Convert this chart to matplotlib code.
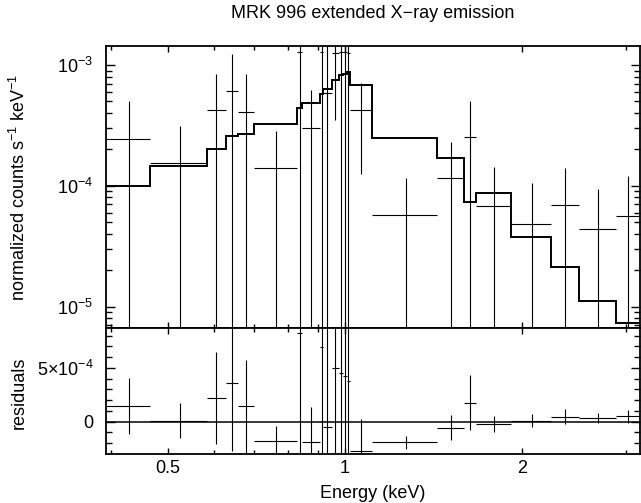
import numpy as np
import matplotlib
matplotlib.use("Agg")
import matplotlib.pyplot as plt
from matplotlib.ticker import FixedLocator, NullFormatter, FixedFormatter, LogLocator

plt.rcParams['font.family'] = ['Liberation Sans', 'DejaVu Sans']
plt.rcParams['mathtext.fontset'] = 'custom'
plt.rcParams['mathtext.rm'] = 'Liberation Sans'
plt.rcParams['mathtext.it'] = 'Liberation Sans:italic'
plt.rcParams['mathtext.bf'] = 'Liberation Sans:bold'

# ---- data ----
bin_edges = [0.3925, 0.466, 0.582, 0.627, 0.658, 0.700, 0.830, 0.846, 0.907, 0.919,
             0.949, 0.978, 0.993, 1.007, 1.020, 1.110, 1.432, 1.594, 1.668, 1.916,
             2.238, 2.503, 2.887, 3.175]
counts = [2.46e-4, 1.54e-4, 4.2e-4, 6.14e-4, 4.1e-4, 1.41e-4, 1.27e-3, 3.01e-4,
          1.27e-3, 5.9e-4, 1.25e-3, 1.27e-3, 1.27e-3, 1.25e-3, 4.2e-4, 5.7e-5,
          1.16e-4, 2.52e-4, 6.8e-5, 4.86e-5, 6.93e-5, 4.42e-5, 5.62e-5]
count_err = [2.6e-4, 1.6e-4, 4.3e-4, 6.3e-4, 4.3e-4, 1.43e-4, 1.3e-3, 3.2e-4,
             1.3e-3, 1.0e-3, 9.0e-4, 1.3e-3, 1.3e-3, 1.3e-3, 2.96e-4, 5.8e-5,
             1.16e-4, 2.55e-4, 7.5e-5, 5.7e-5, 7.1e-5, 4.9e-5, 6.4e-5]
model = [1.0e-4, 1.45e-4, 2.0e-4, 2.57e-4, 2.67e-4, 3.23e-4, 4.44e-4, 4.89e-4,
         5.8e-4, 6.38e-4, 7.48e-4, 8.2e-4, 8.5e-4, 8.7e-4, 6.88e-4, 2.49e-4,
         1.71e-4, 7.4e-5, 8.7e-5, 3.77e-5, 2.13e-5, 1.11e-5, 7.3e-6]

title = "MRK 996 extended X\u2212ray emission"
x_major = [0.5, 1, 2]
x_major_labels = ["0.5", "1", "2"]
x_minor = [0.4, 0.6, 0.7, 0.8, 0.9, 3]
res_major = [0, 5e-4]
res_major_labels = ["0", r"5$\times$10$^{-4}$"]
res_minor = [-2e-4, -1e-4, 1e-4, 2e-4, 3e-4, 4e-4, 6e-4, 7e-4, 8e-4]

edges = np.array(bin_edges)
lo, hi = edges[:-1], edges[1:]
xc = 0.5 * (lo + hi)
y = np.array(counts)
ey = np.array(count_err)
m = np.array(model)
res = y - m

fig = plt.figure(figsize=(6.41, 5.03), dpi=100)
L, R = 106 / 641, 640 / 641
def fy(p):
    return 1 - p / 503
ax1 = fig.add_axes([L, fy(328), R - L, fy(46) - fy(328)])
ax2 = fig.add_axes([L, fy(454), R - L, fy(328) - fy(454)], sharex=ax1)

lw_data = 0.8
# upper panel
ylow = np.maximum(y - ey, 1e-9)
ax1.errorbar(xc, y, xerr=[xc - lo, hi - xc], yerr=[y - ylow, ey], fmt='none',
             ecolor='black', elinewidth=lw_data, capsize=0)
ax1.stairs(m, edges, color='black', lw=1.4, baseline=None)
ax1.set_xscale('log')
ax1.set_yscale('log')
ax1.set_xlim(0.3925, 3.175)
ax1.set_ylim(6.64e-6, 1.436e-3)

# lower panel
ax2.errorbar(xc, res, xerr=[xc - lo, hi - xc], yerr=ey, fmt='none',
             ecolor='black', elinewidth=lw_data, capsize=0)
ax2.axhline(0, color='black', lw=1.1)
ax2.set_ylim(-3.0e-4, 8.7e-4)

for ax in (ax1, ax2):
    ax.xaxis.set_major_locator(FixedLocator(x_major))
    ax.xaxis.set_minor_locator(FixedLocator(x_minor))
    ax.xaxis.set_minor_formatter(NullFormatter())
    for s in ax.spines.values():
        s.set_linewidth(1.3)
    ax.tick_params(axis='x', which='major', direction='in', length=4.5, width=1.0,
                   top=True, bottom=True, labelsize=13, pad=4)
    ax.tick_params(axis='x', which='minor', direction='in', length=2.8, width=1.0,
                   top=True, bottom=True)
    ax.tick_params(axis='y', which='major', direction='in', length=6.5, width=1.0,
                   left=True, right=True, labelsize=13, pad=9)
    ax.tick_params(axis='y', which='minor', direction='in', length=4.0, width=1.0,
                   left=True, right=True)

ax1.tick_params(axis='x', which='both', labelbottom=False)
ax2.xaxis.set_major_formatter(FixedFormatter(x_major_labels))

ax1.yaxis.set_major_locator(FixedLocator([1e-5, 1e-4, 1e-3]))
ax1.yaxis.set_major_formatter(FixedFormatter([r"10$^{-5}$", r"10$^{-4}$", r"10$^{-3}$"]))
ax1.yaxis.set_minor_locator(LogLocator(base=10, subs=np.arange(2, 10)))
ax1.yaxis.set_minor_formatter(NullFormatter())

ax2.yaxis.set_major_locator(FixedLocator(res_major))
ax2.yaxis.set_major_formatter(FixedFormatter(res_major_labels))
ax2.yaxis.set_minor_locator(FixedLocator(res_minor))

fig.text(373 / 641, fy(14), title, ha='center', va='center', fontsize=13)
fig.text(373 / 641, fy(493), "Energy (keV)", ha='center', va='center', fontsize=13)
fig.text(19 / 641, fy(187), r"normalized counts s$^{-1}$ keV$^{-1}$", rotation=90,
         ha='center', va='center', fontsize=13)
fig.text(19 / 641, fy(393), "residuals", rotation=90, ha='center', va='center', fontsize=13)

fig.savefig("out.png", dpi=100)
